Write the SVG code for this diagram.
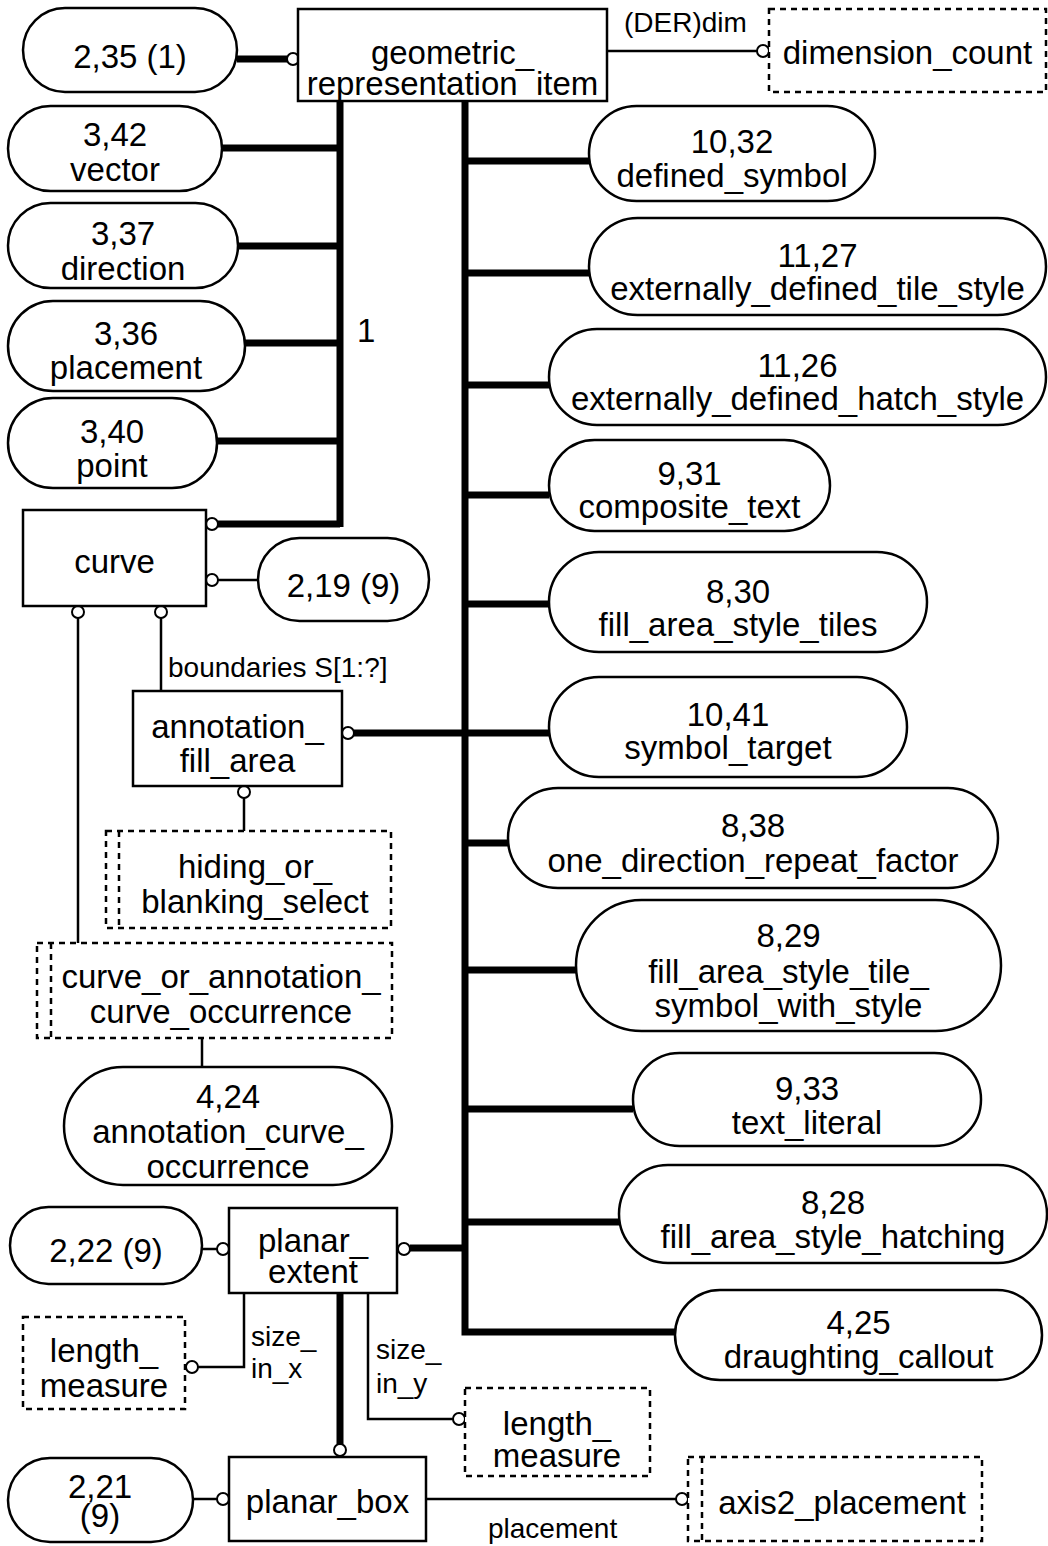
<svg xmlns="http://www.w3.org/2000/svg" width="1048" height="1546" viewBox="0 0 1048 1546">
<style>
text{font-family:"Liberation Sans",Arial,sans-serif;font-size:33px;fill:#000;text-anchor:middle}
text.lbl{font-size:28px;text-anchor:start}
.box{fill:#fff;stroke:#000;stroke-width:2.5}
.dash{fill:#fff;stroke:#000;stroke-width:2.5;stroke-dasharray:6 5}
.dl{fill:none;stroke:#000;stroke-width:2.5;stroke-dasharray:6 5}
.thick{fill:none;stroke:#000;stroke-width:7}
.thin{fill:none;stroke:#000;stroke-width:2.5}
.c{fill:#fff;stroke:#000;stroke-width:2}
</style>
<rect width="1048" height="1546" fill="#fff"/>
<g id="connectors">
<path class="thick" d="M237,59H287"/>
<path class="thin" d="M607,51H757"/>
<path class="thick" d="M340,101V527 M222,148H340 M238,246H340 M245,343H340 M217,441H340 M218,524H340"/>
<path class="thick" d="M465,101V1332H675 M465,161H589 M465,273H589 M465,385H549 M465,495H549 M465,604H549 M354,733H549 M465,843H508 M465,970H576 M465,1109H633 M465,1222H619 M410,1248H465"/>
<path class="thin" d="M218,580H258 M78,618V943 M161,618V691 M244,798V831 M202,1038V1067"/>
<path class="thin" d="M202,1249H217 M244,1293V1367H198 M368,1293V1419H453 M193,1499H217 M426,1499H676"/>
<path class="thick" d="M340,1293V1444"/>
<circle class="c" cx="293" cy="59" r="6"/>
<circle class="c" cx="763" cy="51" r="6"/>
<circle class="c" cx="212" cy="524" r="6"/>
<circle class="c" cx="212" cy="580" r="6"/>
<circle class="c" cx="78" cy="612" r="6"/>
<circle class="c" cx="161" cy="612" r="6"/>
<circle class="c" cx="348" cy="733" r="6"/>
<circle class="c" cx="244" cy="792" r="6"/>
<circle class="c" cx="223" cy="1249" r="6"/>
<circle class="c" cx="404" cy="1249" r="6"/>
<circle class="c" cx="192" cy="1367" r="6"/>
<circle class="c" cx="459" cy="1419" r="6"/>
<circle class="c" cx="340" cy="1450" r="6"/>
<circle class="c" cx="223" cy="1499" r="6"/>
<circle class="c" cx="682" cy="1499" r="6"/>
<text class="lbl" x="624" y="32">(DER)dim</text>
<text class="lbl" x="357" y="342" style="font-size:33px">1</text>
<text class="lbl" x="168" y="677">boundaries S[1:?]</text>
<text class="lbl" x="251" y="1346">size_</text>
<text class="lbl" x="251" y="1378">in_x</text>
<text class="lbl" x="376" y="1359">size_</text>
<text class="lbl" x="376" y="1393">in_y</text>
<text class="lbl" x="488" y="1538">placement</text>
</g>
<g id="n_gri"><rect class="box" x="298" y="9" width="309" height="92"/><text x="452.5" y="64">geometric_</text><text x="452.5" y="95">representation_item</text></g>
<g id="n_dim"><rect class="dash" x="769" y="9" width="277" height="83"/><text x="907.5" y="64">dimension_count</text></g>
<g id="n_235"><rect class="box" x="23" y="8" width="214" height="84" rx="42"/><text x="130" y="68">2,35 (1)</text></g>
<g id="n_342"><rect class="box" x="8" y="106" width="214" height="85" rx="42.5"/><text x="115" y="146">3,42</text><text x="115" y="181">vector</text></g>
<g id="n_337"><rect class="box" x="8" y="203" width="230" height="85" rx="42.5"/><text x="123" y="245">3,37</text><text x="123" y="280">direction</text></g>
<g id="n_336"><rect class="box" x="8" y="301" width="237" height="90" rx="45"/><text x="126" y="345">3,36</text><text x="126" y="379">placement</text></g>
<g id="n_340"><rect class="box" x="8" y="398" width="209" height="90" rx="45"/><text x="112" y="443">3,40</text><text x="112" y="477">point</text></g>
<g id="n_curve"><rect class="box" x="23" y="510" width="183" height="96"/><text x="114.5" y="573">curve</text></g>
<g id="n_219"><rect class="box" x="258" y="538" width="171" height="83" rx="41.5"/><text x="343.5" y="597">2,19 (9)</text></g>
<g id="n_afa"><rect class="box" x="133" y="691" width="209" height="95"/><text x="237.5" y="738">annotation_</text><text x="237.5" y="772">fill_area</text></g>
<g id="n_hob"><rect class="dash" x="106" y="831" width="285" height="97"/><path class="dl" d="M119,831V928"/><text x="255" y="878">hiding_or_</text><text x="255" y="913">blanking_select</text></g>
<g id="n_coa"><rect class="dash" x="37" y="943" width="355" height="95"/><path class="dl" d="M51,943V1038"/><text x="221" y="988">curve_or_annotation_</text><text x="221" y="1023">curve_occurrence</text></g>
<g id="n_424"><rect class="box" x="64" y="1067" width="328" height="118" rx="59"/><text x="228" y="1108">4,24</text><text x="228" y="1143">annotation_curve_</text><text x="228" y="1178">occurrence</text></g>
<g id="n_222"><rect class="box" x="10" y="1207" width="192" height="77" rx="38.5"/><text x="106" y="1262">2,22 (9)</text></g>
<g id="n_pe"><rect class="box" x="229" y="1208" width="168" height="85"/><text x="313" y="1252">planar_</text><text x="313" y="1283">extent</text></g>
<g id="n_lm1"><rect class="dash" x="23" y="1317" width="162" height="92"/><text x="104" y="1362">length_</text><text x="104" y="1397">measure</text></g>
<g id="n_lm2"><rect class="dash" x="465" y="1388" width="185" height="88"/><text x="557" y="1435">length_</text><text x="557" y="1467">measure</text></g>
<g id="n_pb"><rect class="box" x="229" y="1457" width="197" height="84"/><text x="327.5" y="1513">planar_box</text></g>
<g id="n_221"><rect class="box" x="8" y="1458" width="185" height="84" rx="42"/><text x="100" y="1498">2,21</text><text x="100" y="1527">(9)</text></g>
<g id="n_a2p"><rect class="dash" x="688" y="1457" width="294" height="84"/><path class="dl" d="M702,1457V1541"/><text x="842" y="1514">axis2_placement</text></g>
<g id="n_1032"><rect class="box" x="589" y="106" width="286" height="95" rx="47.5"/><text x="732" y="153">10,32</text><text x="732" y="187">defined_symbol</text></g>
<g id="n_1127"><rect class="box" x="589" y="218" width="457" height="97" rx="48.5"/><text x="817.5" y="267">11,27</text><text x="817.5" y="300">externally_defined_tile_style</text></g>
<g id="n_1126"><rect class="box" x="549" y="329" width="497" height="96" rx="48"/><text x="797.5" y="377">11,26</text><text x="797.5" y="410">externally_defined_hatch_style</text></g>
<g id="n_931"><rect class="box" x="549" y="440" width="281" height="91" rx="45.5"/><text x="689.5" y="485">9,31</text><text x="689.5" y="518">composite_text</text></g>
<g id="n_830"><rect class="box" x="549" y="552" width="378" height="100" rx="50"/><text x="738" y="603">8,30</text><text x="738" y="636">fill_area_style_tiles</text></g>
<g id="n_1041"><rect class="box" x="549" y="677" width="358" height="100" rx="50"/><text x="728" y="726">10,41</text><text x="728" y="759">symbol_target</text></g>
<g id="n_838"><rect class="box" x="508" y="788" width="490" height="100" rx="50"/><text x="753" y="837">8,38</text><text x="753" y="872">one_direction_repeat_factor</text></g>
<g id="n_829"><rect class="box" x="576" y="900" width="425" height="131" rx="65.5"/><text x="788.5" y="947">8,29</text><text x="788.5" y="983">fill_area_style_tile_</text><text x="788.5" y="1017">symbol_with_style</text></g>
<g id="n_933"><rect class="box" x="633" y="1053" width="348" height="93" rx="46.5"/><text x="807" y="1100">9,33</text><text x="807" y="1134">text_literal</text></g>
<g id="n_828"><rect class="box" x="619" y="1165" width="428" height="98" rx="49"/><text x="833" y="1214">8,28</text><text x="833" y="1248">fill_area_style_hatching</text></g>
<g id="n_425"><rect class="box" x="675" y="1290" width="367" height="90" rx="45"/><text x="858.5" y="1334">4,25</text><text x="858.5" y="1368">draughting_callout</text></g>
</svg>
